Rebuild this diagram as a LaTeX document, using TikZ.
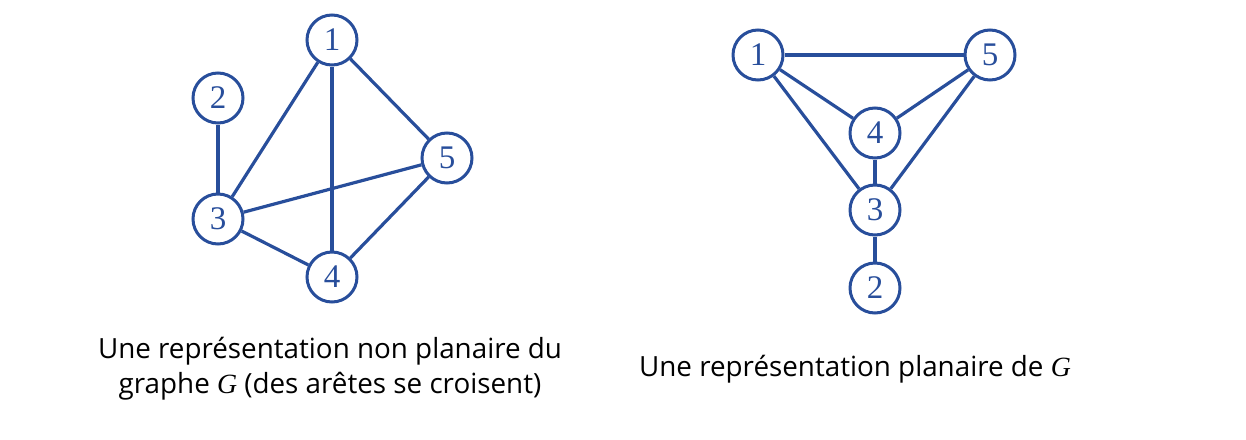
\documentclass[tikz,border=0pt]{standalone}
\usepackage{fontspec}
\setmainfont{Open Sans}
\newfontfamily\numfont{Liberation Serif}
\usetikzlibrary{positioning}
\definecolor{gblue}{RGB}{40,78,155}
\newcommand{\gG}{{\numfont\itshape G}}

\begin{document}
\begin{tikzpicture}
[x=1pt, y=-1pt,
 v/.style={circle, draw=gblue, line width=3pt, minimum size=50pt, inner sep=0pt,
   text=gblue, font=\numfont\fontsize{33}{33}\selectfont},
 caption/.style={align=center, font=\fontsize{27.8}{35}\selectfont}]
\useasboundingbox (0,0) rectangle (1246,439);
% non planar drawing
\node[v] (a1) at (332,40) {1};
\node[v] (a2) at (218,98) {2};
\node[v] (a3) at (218,219) {3};
\node[v] (a4) at (332,277) {4};
\node[v] (a5) at (447,158) {5};
\path[draw=gblue, line width=3.2pt]
(a1)
edge (a3)
edge (a4)
edge (a5)
(a2) edge (a3)
(a3)
edge (a4)
edge (a5)
(a4) edge (a5)
;
% planar drawing
\node[v] (b1) at (758,55) {1};
\node[v] (b5) at (990,55) {5};
\node[v] (b4) at (875,133) {4};
\node[v] (b3) at (875,210) {3};
\node[v] (b2) at (875,288) {2};
\path[draw=gblue, line width=3.2pt]
(b1)
edge (b5)
edge (b4)
edge (b3)
(b5)
edge (b4)
edge (b3)
(b4) edge (b3)
(b3) edge (b2)
;
\node[caption] (ca) at (330,369) {Une représentation non planaire du\\graphe \gG{} (des arêtes se croisent)};
\node[caption] (cb) at (855,369) {Une représentation planaire de \gG};
\end{tikzpicture}
\end{document}
